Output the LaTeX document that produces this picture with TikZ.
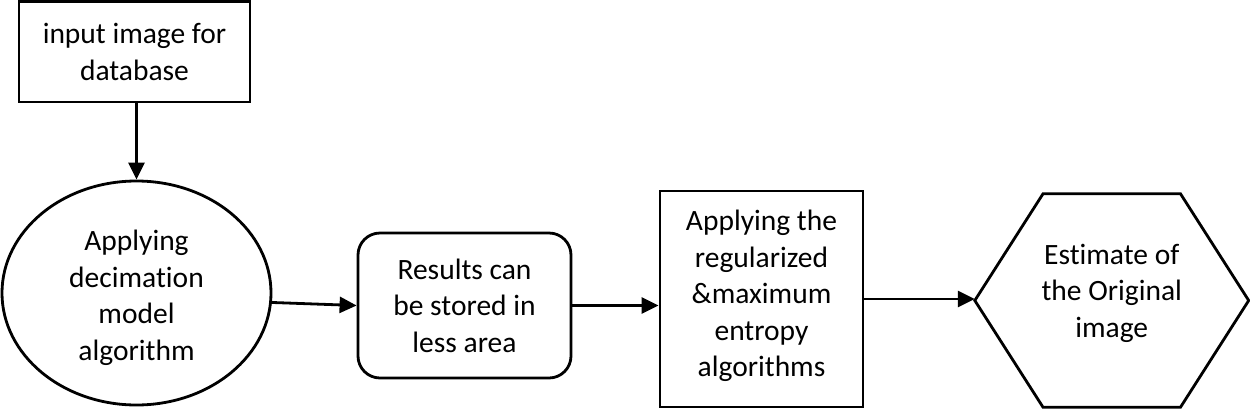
\documentclass[tikz,border=0pt]{standalone}
\usepackage{fontspec}
\setmainfont{Carlito}[Ligatures=NoCommon]
\usetikzlibrary{shapes.geometric,arrows.meta,calc}
\begin{document}
\begin{tikzpicture}[x=1pt,y=-1pt,
  every node/.style={font=\fontsize{29.5}{36.5}\selectfont, align=center, inner sep=0pt},
  box/.style={draw=black, line width=2.8pt},
  sqbox/.style={box, rectangle},
  ellbox/.style={box, ellipse},
  rbox/.style={box, rectangle, rounded corners=22pt},
  hexbox/.style={rectangle, draw=none},
  conn/.style={line width=2.8pt, -{Triangle[length=17pt,width=16pt]}}
]
\useasboundingbox (0,0) rectangle (1250,408);
\node[sqbox, minimum width=231pt, minimum height=100.5pt] (top) at (134.5,51.75) {input image for\\database};
\node[ellbox, minimum width=269pt, minimum height=224pt] (ell) at (136.5,293) {};
\node (elltext) at (136.5,298) {Applying\\decimation\\model\\algorithm};
\node[rbox, minimum width=213pt, minimum height=145pt] (rb) at (464.5,305.5) {Results can\\be stored in\\less area};
\node[sqbox, minimum width=203pt, minimum height=216pt] (rect) at (761.5,299) {};
\node (recttext) at (761.5,296) {Applying the\\regularized\\\&maximum\\entropy\\algorithms};
\node[hexbox, minimum width=273.5pt, minimum height=213pt] (h) at (1111.75,300.5) {};
\node (htext) at (1111.75,293) {Estimate of\\the Original\\image};
\draw[box, line join=miter]
  (h.west) -- ($(h.north west)!0.249!(h.north east)$) -- ($(h.north east)!0.249!(h.north west)$)
  -- (h.east) -- ($(h.south east)!0.249!(h.south west)$) -- ($(h.south west)!0.249!(h.south east)$) -- cycle;
\draw[conn] (ell.north |- top.south) -- (ell.north);
\draw[conn] (ell.-4) -- (rb.west);
\draw[conn] (rb.east) -- (rb.east -| rect.west);
\draw[conn] (rect.east) -- (rect.east -| h.west);
\end{tikzpicture}
\end{document}
